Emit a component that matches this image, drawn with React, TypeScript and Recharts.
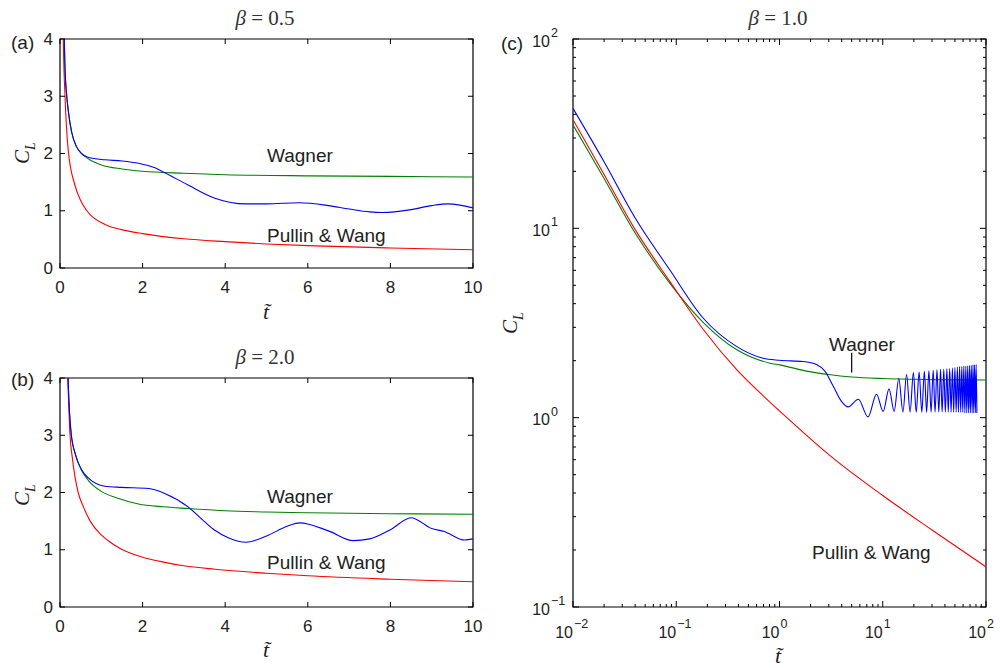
import { LineChart, Line, XAxis, YAxis, ReferenceArea, ReferenceLine } from "recharts";

// ---- data: [t, C_L] ----
const wagnerA = [[0.09, 4.4], [0.12, 3.5], [0.16, 3.03], [0.2, 2.75], [0.28, 2.38], [0.4, 2.12], [0.52, 2.0], [0.7, 1.9], [1.0, 1.8], [1.5, 1.73], [2, 1.69], [3, 1.655], [4, 1.63], [6, 1.61], [8, 1.6], [10, 1.59]];
const presentA = [[0.09, 4.4], [0.12, 3.5], [0.16, 3.03], [0.2, 2.75], [0.28, 2.38], [0.4, 2.12], [0.52, 2.0], [0.69, 1.93], [1.09, 1.89], [1.5, 1.87], [1.9, 1.83], [2.3, 1.75], [2.55, 1.66], [3.1, 1.45], [3.75, 1.22], [4.5, 1.12], [5, 1.12], [5.8, 1.14], [6.5, 1.09], [7, 1.03], [7.5, 0.98], [7.8, 0.97], [8.5, 1.02], [9, 1.09], [9.4, 1.12], [10, 1.05]];
const pullinA = [[0.072, 4.6], [0.08, 4.0], [0.12, 3.03], [0.2, 2.05], [0.36, 1.45], [0.5, 1.18], [0.65, 1.0], [1.09, 0.76], [1.49, 0.67], [2, 0.6], [3, 0.51], [4, 0.46], [5, 0.42], [6, 0.39], [8, 0.35], [10, 0.32]];

const wagnerB = [[0.18, 4.4], [0.2, 3.9], [0.27, 3.03], [0.38, 2.65], [0.52, 2.39], [0.7, 2.2], [1.0, 2.02], [1.4, 1.9], [1.9, 1.8], [2.5, 1.75], [3.1, 1.72], [4, 1.68], [5, 1.66], [6, 1.645], [8, 1.63], [10, 1.62]];
const presentB = [[0.18, 4.4], [0.2, 3.9], [0.27, 3.03], [0.38, 2.65], [0.52, 2.4], [0.69, 2.25], [1.09, 2.11], [1.49, 2.09], [2.14, 2.07], [2.55, 1.98], [3.1, 1.75], [3.5, 1.49], [3.75, 1.34], [4.1, 1.2], [4.5, 1.13], [5, 1.24], [5.5, 1.41], [5.8, 1.47], [6.5, 1.33], [7.1, 1.16], [7.5, 1.19], [8, 1.35], [8.5, 1.56], [9, 1.37], [9.3, 1.32], [9.8, 1.17], [10, 1.19]];
const pullinB = [[0.17, 4.5], [0.19, 4.0], [0.24, 3.03], [0.3, 2.6], [0.44, 2.0], [0.55, 1.78], [0.73, 1.5], [1.0, 1.26], [1.2, 1.14], [1.49, 1.01], [2.0, 0.87], [2.54, 0.78], [3, 0.72], [3.75, 0.66], [5, 0.59], [6, 0.545], [8, 0.485], [10, 0.44]];

const wagnerC = [[0.01, 35.2], [0.0195, 18.8], [0.041, 9.25], [0.0865, 5.14], [0.182, 3.19], [0.383, 2.29], [0.81, 1.94], [1.0, 1.9], [1.96, 1.75], [3, 1.69], [5, 1.64], [10, 1.61], [20, 1.595], [40, 1.585], [100, 1.58]];
const pullinC = [[0.01, 37.5], [0.0195, 19.7], [0.041, 9.64], [0.0865, 5.25], [0.182, 2.93], [0.383, 1.8], [0.7, 1.3], [1.18, 1.0], [3, 0.638], [10, 0.388], [30, 0.255], [100, 0.163]];
const presentC = [[0.01, 43], [0.0195, 23], [0.041, 11.1], [0.0865, 6.04], [0.182, 3.36], [0.383, 2.38], [0.693, 2.06], [1.0, 2.01], [1.69, 1.98], [2.28, 1.91], [2.75, 1.76], [3.31, 1.47], [3.98, 1.22], [4.62, 1.14],
  [5.8, 1.25], [7.2, 1.01], [8.7, 1.33], [10.1, 1.08], [11.5, 1.42], [12.9, 1.08], [14.3, 1.61], [15.7, 1.07], [17.0, 1.69], [18.4, 1.07], [19.8, 1.73], [21.1, 1.07], [22.5, 1.74], [23.9, 1.07],
  [25.3, 1.76], [26.6, 1.07], [28.0, 1.77], [29.4, 1.07], [30.8, 1.78], [32.1, 1.07], [33.5, 1.79], [34.9, 1.07], [36.3, 1.8], [37.6, 1.07], [39.0, 1.8], [40.4, 1.07], [41.8, 1.81], [43.1, 1.07],
  [44.5, 1.82], [45.9, 1.07], [47.3, 1.83], [48.6, 1.07], [50.0, 1.84], [51.4, 1.07], [52.8, 1.85], [54.1, 1.07], [55.5, 1.86], [56.9, 1.07], [58.3, 1.86], [59.6, 1.07], [61.0, 1.87], [62.4, 1.06],
  [63.8, 1.87], [65.1, 1.06], [66.5, 1.88], [67.9, 1.06], [69.3, 1.89], [70.6, 1.06], [72.0, 1.89], [73.4, 1.06], [74.8, 1.9], [76.1, 1.06], [77.5, 1.9], [78.9, 1.06], [80.3, 1.91], [81.6, 1.06]];
const wagnerPointer = [{ x: 5, y: 2.2 }, { x: 5, y: 1.73 }];

const linXTicks = [0, 2, 4, 6, 8, 10];
const linYTicks = [0, 1, 2, 3, 4];
const logXDecades = [0.01, 0.1, 1, 10, 100];
const logYDecades = [0.1, 1, 10, 100];
const minorSteps = [2, 3, 4, 5, 6, 7, 8, 9];

const withMinors = (dec: number[]) => [
  ...dec,
  ...dec.slice(0, -1).flatMap((d) => minorSteps.map((m) => +(d * m).toPrecision(3))),
].sort((a, b) => a - b);

const pts = (arr: number[][]) => arr.map(([t, v]) => ({ t, v }));

const SANS = "'Liberation Sans', Arial, sans-serif";
const SERIF = "'Liberation Serif', 'Times New Roman', serif";
const INK = "#222";
const BLUE = "#0000ff";
const GREEN = "#008000";
const RED = "#ff0000";

// ---- ticks (inward, on all four sides, matlab style) ----
const linXTick = (plotH: number) => (p: any) => {
  const { x, y, payload } = p;
  return (
    <g>
      <line x1={x} y1={y} x2={x} y2={y - 5} stroke="#000" />
      <line x1={x} y1={y - plotH} x2={x} y2={y - plotH + 5} stroke="#000" />
      <text x={x} y={y + 19} textAnchor="middle" dominantBaseline="central" fontFamily={SANS} fontSize={17} fill={INK}>
        {payload.value}
      </text>
    </g>
  );
};

const linYTick = (plotW: number) => (p: any) => {
  const { x, y, payload } = p;
  return (
    <g>
      <line x1={x} y1={y} x2={x + 5} y2={y} stroke="#000" />
      <line x1={x + plotW} y1={y} x2={x + plotW - 5} y2={y} stroke="#000" />
      <text x={x - 7} y={y} textAnchor="end" dominantBaseline="central" fontFamily={SANS} fontSize={17} fill={INK}>
        {payload.value}
      </text>
    </g>
  );
};

const isDecade = (v: number) => Math.abs(Math.log10(v) - Math.round(Math.log10(v))) < 1e-6;
const expText = (v: number) => {
  const e = Math.round(Math.log10(v));
  return e < 0 ? `\u2212${-e}` : `${e}`;
};

const logXTick = (plotH: number) => (p: any) => {
  const { x, y, payload } = p;
  const major = isDecade(payload.value);
  const len = major ? 6 : 3;
  return (
    <g>
      <line x1={x} y1={y} x2={x} y2={y - len} stroke="#000" />
      <line x1={x} y1={y - plotH} x2={x} y2={y - plotH + len} stroke="#000" />
      {major && (
        <g fontFamily={SANS} fill={INK}>
          <text x={x} y={y + 25} textAnchor="end" dominantBaseline="central" fontSize={16}>10</text>
          <text x={x + 1} y={y + 17} textAnchor="start" dominantBaseline="central" fontSize={12.5}>{expText(payload.value)}</text>
        </g>
      )}
    </g>
  );
};

const logYTick = (plotW: number) => (p: any) => {
  const { x, y, payload } = p;
  const major = isDecade(payload.value);
  const len = major ? 6 : 3;
  return (
    <g>
      <line x1={x} y1={y} x2={x + len} y2={y} stroke="#000" />
      <line x1={x + plotW} y1={y} x2={x + plotW - len} y2={y} stroke="#000" />
      {major && (
        <g fontFamily={SANS} fill={INK}>
          <text x={x - 23} y={y + 2} textAnchor="end" dominantBaseline="central" fontSize={16}>10</text>
          <text x={x - 22} y={y - 6} textAnchor="start" dominantBaseline="central" fontSize={12.5}>{expText(payload.value)}</text>
        </g>
      )}
    </g>
  );
};

// ---- small html text helpers ----
const abs = (left: number, top: number, extra: any = {}): any => ({
  position: "absolute",
  left,
  top,
  transform: "translate(0,-50%)",
  whiteSpace: "nowrap",
  color: INK,
  lineHeight: 1,
  ...extra,
});

function Title({ cx, cy, beta }: { cx: number; cy: number; beta: string }) {
  return (
    <div style={abs(cx, cy, { transform: "translate(-50%,-50%)", fontFamily: SERIF, fontSize: 21, color: "#333" })}>
      <i>β</i>&nbsp;=&nbsp;{beta}
    </div>
  );
}

function CLLabel({ cx, cy }: { cx: number; cy: number }) {
  return (
    <div style={abs(cx, cy, { transform: "translate(-50%,-50%) rotate(-90deg)", fontFamily: SERIF, fontSize: 21 })}>
      <i>C</i>
      <sub style={{ fontSize: 14, fontStyle: "italic" }}>L</sub>
    </div>
  );
}

function TLabel({ cx, cy }: { cx: number; cy: number }) {
  return (
    <div style={abs(cx, cy, { transform: "translate(-50%,-50%)", fontFamily: SERIF, fontSize: 22, fontStyle: "italic" })}>
      t&#771;
    </div>
  );
}

const note = { fontFamily: SANS, fontSize: 19 };

function LinPanel({ top, height, mt, mb, wagner, present, pullin }: any) {
  const plotH = height - mt - mb - 30;
  return (
    <div style={{ position: "absolute", left: 0, top }}>
      <LineChart width={490} height={height} margin={{ top: mt, right: 17, bottom: mb, left: 20 }}>
        <XAxis dataKey="t" type="number" domain={[0, 10]} ticks={linXTicks} interval={0} allowDataOverflow
          axisLine={false} tickLine={false} tickSize={0} tickMargin={0} height={30} tick={linXTick(plotH)} />
        <YAxis type="number" domain={[0, 4]} ticks={linYTicks} interval={0} allowDataOverflow
          axisLine={false} tickLine={false} tickSize={0} tickMargin={0} width={40} tick={linYTick(413)} />
        <ReferenceArea x1={0} x2={10} y1={0} y2={4} fill="none" stroke="#000" strokeWidth={1.2} ifOverflow="visible" />
        <Line data={pts(wagner)} dataKey="v" type="monotone" stroke={GREEN} strokeWidth={1.1} dot={false} isAnimationActive={false} />
        <Line data={pts(pullin)} dataKey="v" type="monotone" stroke={RED} strokeWidth={1.1} dot={false} isAnimationActive={false} />
        <Line data={pts(present)} dataKey="v" type="monotone" stroke={BLUE} strokeWidth={1.1} dot={false} isAnimationActive={false} />
      </LineChart>
    </div>
  );
}

export default function App() {
  return (
    <div style={{ position: "absolute", left: 0, top: 0, width: 1000, height: 668, background: "#fff", overflow: "hidden" }}>
      <LinPanel top={0} height={330} mt={39} mb={32} wagner={wagnerA} present={presentA} pullin={pullinA} />
      <LinPanel top={330} height={338} mt={48} mb={31} wagner={wagnerB} present={presentB} pullin={pullinB} />

      <div style={{ position: "absolute", left: 490, top: 0 }}>
        <LineChart width={510} height={668} margin={{ top: 39, right: 14, bottom: 31, left: 23 }}>
          <XAxis dataKey="t" type="number" scale="log" domain={[0.01, 100]} ticks={withMinors(logXDecades)} interval={0} allowDataOverflow
            axisLine={false} tickLine={false} tickSize={0} tickMargin={0} height={30} tick={logXTick(568)} />
          <YAxis type="number" scale="log" domain={[0.1, 100]} ticks={withMinors(logYDecades)} interval={0} allowDataOverflow
            axisLine={false} tickLine={false} tickSize={0} tickMargin={0} width={60} tick={logYTick(413)} />
          <ReferenceArea x1={0.01} x2={100} y1={0.1} y2={100} fill="none" stroke="#000" strokeWidth={1.2} ifOverflow="visible" />
          <ReferenceLine segment={wagnerPointer} stroke="#000" strokeWidth={1.2} ifOverflow="visible" />
          <Line data={pts(wagnerC)} dataKey="v" type="monotone" stroke={GREEN} strokeWidth={1.1} dot={false} isAnimationActive={false} />
          <Line data={pts(pullinC)} dataKey="v" type="monotone" stroke={RED} strokeWidth={1.1} dot={false} isAnimationActive={false} />
          <Line data={pts(presentC)} dataKey="v" type="monotone" stroke={BLUE} strokeWidth={1.1} dot={false} isAnimationActive={false} />
        </LineChart>
      </div>

      <Title cx={265} cy={18} beta="0.5" />
      <Title cx={265} cy={357} beta="2.0" />
      <Title cx={778} cy={18} beta="1.0" />

      <div style={abs(11, 42, { fontFamily: SANS, fontSize: 19 })}>(a)</div>
      <div style={abs(11, 379, { fontFamily: SANS, fontSize: 19 })}>(b)</div>
      <div style={abs(501, 43, { fontFamily: SANS, fontSize: 19 })}>(c)</div>

      <CLLabel cx={25} cy={153} />
      <CLLabel cx={25} cy={495} />
      <CLLabel cx={513} cy={323} />
      <TLabel cx={266} cy={312} />
      <TLabel cx={266} cy={650} />
      <TLabel cx={778} cy={656} />

      <div style={abs(267, 155, note)}>Wagner</div>
      <div style={abs(267, 235, note)}>Pullin &amp; Wang</div>
      <div style={abs(267, 496, note)}>Wagner</div>
      <div style={abs(267, 562, note)}>Pullin &amp; Wang</div>
      <div style={abs(829, 344, note)}>Wagner</div>
      <div style={abs(812, 552, note)}>Pullin &amp; Wang</div>
    </div>
  );
}
